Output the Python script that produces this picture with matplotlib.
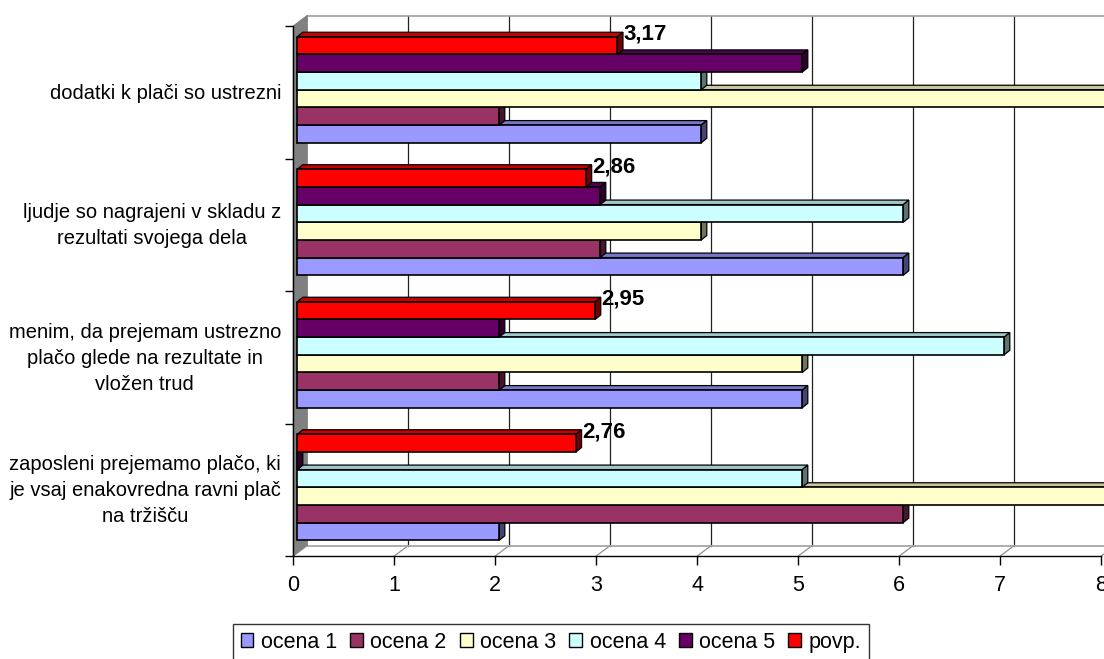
import matplotlib
matplotlib.use("Agg")
import matplotlib.pyplot as plt
from matplotlib.patches import Polygon, Patch
import matplotlib.colors as mcolors
import numpy as np

plt.rcParams['font.family'] = ['Liberation Sans', 'DejaVu Sans']

# ---------------- data ----------------
categories = [
    "zaposleni prejemamo plačo, ki\nje vsaj enakovredna ravni plač\nna tržišču",
    "menim, da prejemam ustrezno\nplačo glede na rezultate in\nvložen trud",
    "ljudje so nagrajeni v skladu z\nrezultati svojega dela",
    "dodatki k plači so ustrezni",
]
series_names = ["ocena 1", "ocena 2", "ocena 3", "ocena 4", "ocena 5", "povp."]
ocena1 = [2, 5, 6, 4]
ocena2 = [6, 2, 3, 2]
ocena3 = [8, 5, 4, 8]
ocena4 = [5, 7, 6, 4]
ocena5 = [0, 2, 3, 5]
povp = [2.76, 2.95, 2.86, 3.17]
povp_labels = ["2,76", "2,95", "2,86", "3,17"]
x_ticks = [0, 1, 2, 3, 4, 5, 6, 7, 8]

series_values = [ocena1, ocena2, ocena3, ocena4, ocena5, povp]
colors = ["#9999FF", "#993366", "#FFFFCC", "#CCFFFF", "#660066", "#FF0000"]

# ---------------- layout ----------------
W, H = 1104, 659
fig = plt.figure(figsize=(W / 100, H / 100), dpi=100)
ax_left, ax_right = 293.3, 1101.3
ax_top, ax_bot = 26, 556
ax = fig.add_axes([ax_left / W, 1 - ax_bot / H, (ax_right - ax_left) / W, (ax_bot - ax_top) / H])
ax.set_xlim(0, 8)
ax.set_ylim(-0.5, 3.5)

pxx = (ax_right - ax_left) / 8.0     # pixels per x unit
pxy = (ax_bot - ax_top) / 4.0        # pixels per y unit

def dx(p):
    return p / pxx

def dy(p):
    return p / pxy

# back wall offset
bx, by = dx(14), dy(10.5)
# bar front offset and bar depth
fx, fy = dx(4), dy(2.5)
ddx, ddy = dx(5.5), dy(4.5)

ymin, ymax = -0.5, 3.5
# left wall
ax.add_patch(Polygon([(0, ymin), (0, ymax), (bx, ymax + by), (bx, ymin + by)],
                     closed=True, facecolor="#808080", edgecolor="#808080",
                     lw=0.8, zorder=0.5, clip_on=False))
# back wall gridlines
for k in x_ticks[1:]:
    ax.plot([k + bx, k + bx], [ymin + by, ymax + by], color="#202020", lw=0.9,
            zorder=0.4, clip_on=False)
    # floor diagonals
    ax.plot([k, k + bx], [ymin, ymin + by], color="#909090", lw=0.9,
            zorder=0.4, clip_on=False)
# back wall top edge and floor back edge
ax.plot([bx, 8 + bx], [ymax + by, ymax + by], color="#A0A0A0", lw=1.2, zorder=0.4, clip_on=False)
ax.plot([bx, 8 + bx], [ymin + by, ymin + by], color="#A0A0A0", lw=1.2, zorder=0.4, clip_on=False)

# ---------------- bars ----------------
n = len(series_values)
group_w = 0.8
bh = group_w / n
ypos = np.arange(len(categories))

def shade(c, f):
    r, g, b = mcolors.to_rgb(c)
    return (r * f, g * f, b * f)

for i, (vals, col) in enumerate(zip(series_values, colors)):
    yc = ypos - group_w / 2 + bh * (i + 0.5) + fy
    z = 3 + i
    ax.barh(yc, vals, height=bh, left=fx, color=col, edgecolor="black",
            linewidth=1.2, zorder=z + 0.5, clip_on=False)
    for y, v in zip(yc, vals):
        x0, x1 = fx, fx + v
        yt, yb = y + bh / 2, y - bh / 2
        top = [(x0, yt), (x1, yt), (x1 + ddx, yt + ddy), (x0 + ddx, yt + ddy)]
        side = [(x1, yb), (x1, yt), (x1 + ddx, yt + ddy), (x1 + ddx, yb + ddy)]
        ax.add_patch(Polygon(top, closed=True, facecolor=shade(col, 0.78),
                             edgecolor="black", lw=0.9, zorder=z, clip_on=False))
        ax.add_patch(Polygon(side, closed=True, facecolor=shade(col, 0.45),
                             edgecolor="black", lw=0.9, zorder=z, clip_on=False))

# value labels for povp.
yc_p = ypos - group_w / 2 + bh * (n - 0.5) + fy
for y, v, lab in zip(yc_p, povp, povp_labels):
    ax.text(fx + v + ddx + dx(0.3), y + bh / 2 + dy(2.5), lab, ha="left", va="center",
            fontsize=16, fontweight="bold", zorder=20)

# ---------------- axes ----------------
for s in ["top", "right"]:
    ax.spines[s].set_visible(False)
ax.spines["left"].set_linewidth(1.0)
ax.spines["bottom"].set_linewidth(1.0)
ax.spines["left"].set_zorder(1)
ax.spines["bottom"].set_zorder(1)
ax.set_xticks(x_ticks)
ax.set_xticklabels([str(t) for t in x_ticks], fontsize=15.5)
ax.tick_params(axis="x", direction="out", length=6.5, width=1.0, pad=7)
ax.set_yticks([-0.5, 0.5, 1.5, 2.5, 3.5])
ax.set_yticklabels([])
ax.tick_params(axis="y", direction="out", length=6, width=1.0)
ax.patch.set_alpha(0)

ytr = ax.get_yaxis_transform()
for y, lab in zip(ypos, categories):
    ax.text((281 - ax_left) / (ax_right - ax_left), y + dy(-1), lab, transform=ytr,
            ha="right", va="center", fontsize=14.5, linespacing=1.45, multialignment="center")

# ---------------- legend ----------------
handles = [Patch(facecolor=c, edgecolor="black", linewidth=1.0) for c in colors]
leg = fig.legend(handles, series_names, loc="upper left",
                 bbox_to_anchor=(233 / W, 1 - 624 / H), ncol=6, fontsize=15.5,
                 frameon=True, fancybox=False, shadow=False,
                 handlelength=0.6, handleheight=0.6, handletextpad=0.35,
                 columnspacing=0.6, borderpad=0.35, borderaxespad=0)
leg.get_frame().set_edgecolor("black")
leg.get_frame().set_linewidth(1.0)

fig.savefig("out.png", dpi=100)
